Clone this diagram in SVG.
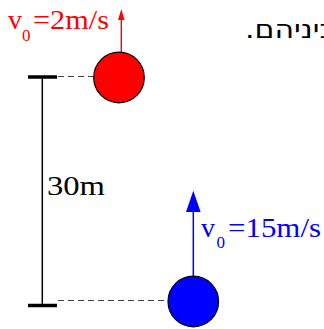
<svg xmlns="http://www.w3.org/2000/svg" width="324" height="329" viewBox="0 0 324 329">
<style>
.serif{font-family:"Liberation Serif","Times New Roman",serif;font-size:28px}
.sub{font-family:"Liberation Serif","Times New Roman",serif;font-size:17px}
.dash{stroke:#444;stroke-width:1.2;stroke-dasharray:6,4;fill:none}
.tick{stroke:#000;stroke-width:3.5}
</style>
<rect width="324" height="329" fill="#fff"/>
<text transform="translate(245,38) scale(1.2,1)" x="0" y="0" direction="rtl" text-anchor="end" font-family="DejaVu Sans, sans-serif" font-size="25" fill="#000">ביניהם.</text>
<g id="connectors">
<line x1="42.3" y1="77" x2="42.3" y2="305" stroke="#000" stroke-width="1.5"/>
<line class="tick" x1="28" y1="77" x2="57" y2="77"/>
<line class="tick" x1="28" y1="305.5" x2="57" y2="305.5"/>
<line class="dash" x1="58" y1="76.5" x2="94" y2="76.5"/>
<line class="dash" x1="58" y1="300.5" x2="168" y2="300.5"/>
<line x1="121.3" y1="52" x2="121.3" y2="19" stroke="#f00" stroke-width="1.4"/>
<path d="M121.3,9 L118,20 L124.6,20 Z" fill="#f00"/>
<line x1="193.3" y1="277" x2="193.3" y2="211" stroke="#00f" stroke-width="1.5"/>
<path d="M193.3,190.7 L186,212 L200.6,212 Z" fill="#00f"/>
</g>
<g id="red-ball">
<circle cx="119" cy="77.5" r="25.3" fill="#f00" stroke="#000" stroke-width="1.2"/>
<text class="serif" x="8" y="29" fill="#f00">v</text>
<text class="sub" x="22" y="41" fill="#f00">0</text>
<text class="serif" x="33" y="29" fill="#f00" textLength="76" lengthAdjust="spacingAndGlyphs">=2m/s</text>
</g>
<g id="blue-ball">
<circle cx="193.3" cy="301.5" r="25.3" fill="#00f" stroke="#000" stroke-width="1.2"/>
<text class="serif" x="201" y="237" fill="#00f">v</text>
<text class="sub" x="216.5" y="248" fill="#00f">0</text>
<text class="serif" x="228" y="237" fill="#00f" textLength="93" lengthAdjust="spacingAndGlyphs">=15m/s</text>
</g>
<g id="distance">
<text class="serif" x="47" y="195" fill="#000" textLength="58" lengthAdjust="spacingAndGlyphs">30m</text>
</g>
</svg>
